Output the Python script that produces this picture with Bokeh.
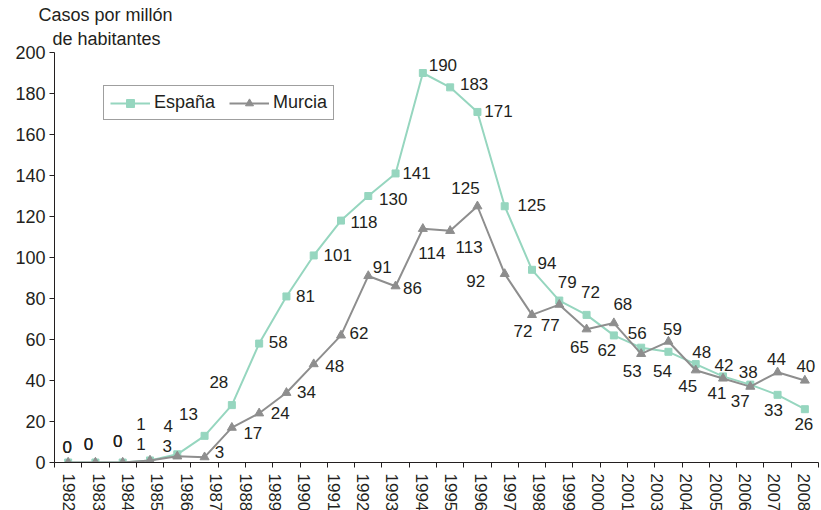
from bokeh.plotting import figure
from bokeh.models import (ColumnDataSource, LabelSet, FixedTicker, Range1d,
                          Legend, LegendItem, LinearAxis, Title)
from bokeh.core.properties import value
from bokeh.embed import file_html
from bokeh.resources import INLINE

# ---- data ----
year_labels = ["1982", "1983", "1984", "1985", "1986", "1987", "1988", "1989", "1990",
               "1991", "1992", "1993", "1994", "1995", "1996", "1997", "1998", "1999",
               "2000", "2001", "2003", "2004", "2005", "2006", "2007", "2008"]
espana = [0, 0, 0, 1, 4, 13, 28, 58, 81, 101, 118, 130, 141, 190, 183, 171, 125, 94,
          79, 72, 62, 56, 54, 48, 42, 38, 33, 26]
murcia = [0, 0, 0, 1, 3, 2.6, 17, 24, 34, 48, 62, 91, 86, 114, 113, 125, 92, 72,
          77, 65, 68, 53, 59, 45, 41, 37, 44, 40]
y_ticks = [0, 20, 40, 60, 80, 100, 120, 140, 160, 180, 200]

# label offsets in pixels (right, down)
esp_dx = [-1, -7, -5, -9, -9, -16, -13, 19, 19, 24, 23, 25, 21, 20, 24, 21, 27, 15, 8, 4, -7, -4, -6, 6, 1, -2, -4, -1]
esp_dy = [-16, -19, -22, -36, -28, -22, -23, -2, 0, 0, 1, 3, 0, -8, -3, -1, -1, -7, -19, -23, 15, -15, 19, -12, -11, -13, 15, 15]
mur_dx = [-1, -7, -5, -9, -10, 15, 21, 21, 20, 21, 18, 14, 17, 9, 19, -12, -29, -9, -9, -7, 9, -9, 4, -8, -6, -10, -1, 1]
mur_dy = [-16, -19, -22, -16, -10, -5, 5, 0, -1, 2, -2, -9, 2, 24, 16, -18, 7, 16, 20, 18, -19, 17, -13, 16, 15, 14, -13, -15]

GREEN = "#96D6BF"
GRAY = "#8E8E8E"
TXT = "#231F20"
FONT = "Liberation Sans"

n = len(espana)
nl = len(year_labels)
xs = [i + 0.5 for i in range(n)]

p = figure(frame_width=764, frame_height=410, output_backend="svg", toolbar_location=None,
           x_range=Range1d(0, n), y_range=Range1d(0, 200), x_axis_location=None,
           min_border_left=54, min_border_top=52, min_border_right=3, min_border_bottom=5,
           background_fill_color="white", border_fill_color="white")
p.outline_line_color = None
p.xgrid.visible = False
p.ygrid.visible = False

# y axis
ya = p.yaxis[0]
ya.ticker = FixedTicker(ticks=y_ticks, minor_ticks=[])
ya.major_tick_out = 5
ya.major_tick_in = 0
ya.minor_tick_out = 0
ya.major_label_standoff = 4
ya.major_label_text_font = FONT
ya.major_label_text_font_size = "18px"
ya.major_label_text_color = TXT
ya.axis_line_color = TXT
ya.major_tick_line_color = TXT

# x axis with labels evenly spread, boundaries as minor ticks
p.extra_x_ranges = {"lab": Range1d(0, nl)}
xa = LinearAxis(x_range_name="lab")
lab_pos = [j + 0.5 for j in range(nl)]
xa.ticker = FixedTicker(ticks=lab_pos, minor_ticks=[k * nl / n for k in range(n + 1)])
xa.major_label_overrides = {pos: lab for pos, lab in zip(lab_pos, year_labels)}
xa.major_tick_out = 0
xa.major_tick_in = 0
xa.minor_tick_out = 5
xa.minor_tick_in = 0
xa.minor_tick_line_color = TXT
xa.axis_line_color = TXT
xa.major_label_orientation = "vertical"
xa.major_label_standoff = 6
xa.major_label_text_font = FONT
xa.major_label_text_font_size = "17px"
xa.major_label_text_color = TXT
p.add_layout(xa, "below")

# series
src_e = ColumnDataSource(dict(x=xs, y=espana, t=[f"{v:.0f}" for v in espana],
                              dx=esp_dx, dy=[-d for d in esp_dy]))
src_m = ColumnDataSource(dict(x=xs, y=murcia, t=[f"{v:.0f}" for v in murcia],
                              dx=mur_dx, dy=[-d for d in mur_dy]))

le = p.line("x", "y", source=src_e, line_color=GREEN, line_width=2)
se = p.scatter("x", "y", source=src_e, marker="square", size=7, fill_color=GREEN, line_color=GREEN)
lm = p.line("x", "y", source=src_m, line_color=GRAY, line_width=2)
sm = p.scatter("x", "y", source=src_m, marker="triangle", size=9, fill_color=GRAY, line_color=GRAY)

for src in (src_e, src_m):
    p.add_layout(LabelSet(x="x", y="y", text="t", source=src, x_offset="dx", y_offset="dy",
                          text_align="center", text_baseline="middle",
                          text_font=value(FONT), text_font_size="17px", text_color=TXT))

# axis title (top-left), two lines as stacked titles (nearest the frame first)
p.add_layout(Title(text="de habitantes", align="left", offset=-2, standoff=8,
                   text_font=FONT, text_font_size="18px", text_font_style="normal",
                   text_color=TXT, text_line_height=1.0), "above")
p.add_layout(Title(text="Casos por millón", align="left", offset=-16, standoff=-5,
                   text_font=FONT, text_font_size="18px", text_font_style="normal",
                   text_color=TXT, text_line_height=1.0), "above")

legend = Legend(items=[LegendItem(label="España", renderers=[le, se]),
                       LegendItem(label="Murcia", renderers=[lm, sm])],
                orientation="horizontal", location=(49, 342),
                border_line_color="#404040", border_line_width=1, background_fill_color="white",
                padding=6, spacing=14, glyph_width=40, glyph_height=20, label_standoff=4,
                label_text_font=FONT, label_text_font_size="18px", label_text_color=TXT, margin=0)
p.add_layout(legend)

open("out.html", "w").write(file_html(p, INLINE))
